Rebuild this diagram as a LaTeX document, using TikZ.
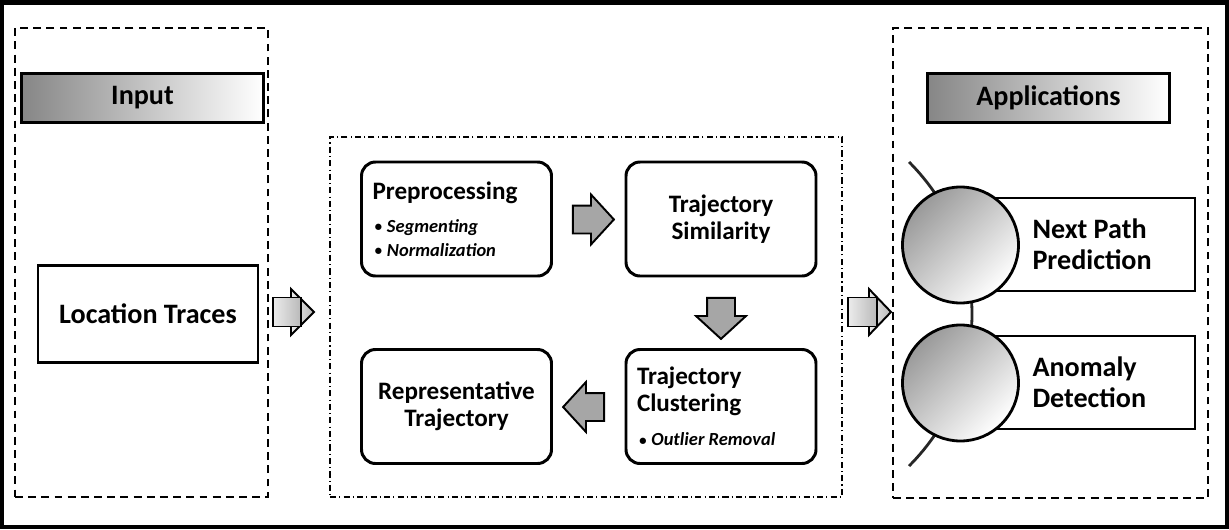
\documentclass[tikz,border=0pt]{standalone}
\usepackage{fontspec}
\setmainfont{Carlito}
\usetikzlibrary{shapes.arrows,positioning}
\definecolor{arrowgray}{RGB}{166,166,166}

\begin{document}
\begin{tikzpicture}[node distance=2cm]

    \tikzstyle{frame} = [rectangle, draw=black, line width=1.3pt, dash pattern=on 4.5pt off 3pt]
    \tikzstyle{core_frame} = [rectangle, draw=black, line width=0.6pt, dash pattern=on 3.5pt off 1.8pt on 0.6pt off 1.8pt]
    \tikzstyle{header} = [rectangle, minimum width=4.84cm, minimum height=0.98cm, draw=black, line width=1.7pt, left color=gray!95, right color=white, font=\fontsize{16}{18}\selectfont\bfseries]
    \tikzstyle{in_box} = [rectangle, minimum width=4.4cm, minimum height=1.94cm, draw=black, line width=1.7pt, font=\fontsize{16}{18}\selectfont\bfseries]
    \tikzstyle{step_box} = [rectangle, rounded corners=0.28cm, minimum width=3.8cm, minimum height=2.28cm, draw=black, line width=1.7pt, align=center, font=\fontsize{14.3}{15.4}\selectfont\bfseries]
    \tikzstyle{list_box} = [step_box, text width=3.36cm, align=flush left, font=\fontsize{14.3}{13.7}\selectfont\bfseries]
    \tikzstyle{app_box} = [rectangle, minimum width=4.1cm, minimum height=1.86cm, text width=2.4cm, inner xsep=0.85cm, align=flush left, draw=black, fill=white, line width=1.6pt, font=\fontsize{16}{17.6}\selectfont\bfseries]
    \tikzstyle{app_dot} = [circle, minimum size=2.32cm, draw=black, line width=1.6pt, top color=gray!80, bottom color=white, shading angle=45]
    \tikzstyle{block_arrow} = [single arrow, draw=black, line width=1.1pt, fill=arrowgray, inner sep=0pt, text height=0.52cm, text depth=0cm, single arrow head extend=0.22cm, single arrow tip angle=95, minimum height=0.82cm]
    \tikzstyle{arrow_part} = [draw=black, line width=1.1pt, left color=gray!15, right color=gray!55]

    \useasboundingbox (0,0) rectangle (24.58,10.58);
    \draw [line width=0.09cm] (0.045,0.045) rectangle (24.535,10.535);

            % frames
            \node (Input_Frame) [frame, minimum width=5.06cm, minimum height=9.38cm] at (2.83,5.33) {};
            \node (Core_Frame) [core_frame, minimum width=10.24cm, minimum height=7.2cm] at (11.72,4.24) {};
            \node (Apps_Frame) [frame, minimum width=6.30cm, minimum height=9.40cm] at (21.01,5.32) {};

            % input side
            \node (Input) [header] at (2.85,8.62) {Input};
            \node (Location_Traces) [in_box] at (2.96,4.30) {Location Traces};

            % core steps
            \node (Preprocessing) [list_box] at (9.13,6.20) {Preprocessing\\[5.2pt]
                {\fontsize{10.5}{13}\selectfont\itshape\hspace{0.04cm}\raisebox{0.4pt}{\fontsize{8.5}{8}\selectfont\textbullet}\hspace{0.1cm}Segmenting}\\
                {\fontsize{10.5}{13}\selectfont\itshape\hspace{0.04cm}\raisebox{0.4pt}{\fontsize{8.5}{8}\selectfont\textbullet}\hspace{0.1cm}Normalization}};
            \node (Similarity) [step_box] at (14.42,6.20) {Trajectory\\Similarity};
            \node (Clustering) [list_box] at (14.42,2.45) {Trajectory\\[1.7pt]Clustering\\[5.7pt]
                {\fontsize{10.5}{13}\selectfont\itshape\hspace{0.04cm}\raisebox{0.4pt}{\fontsize{8.5}{8}\selectfont\textbullet}\hspace{0.1cm}Outlier Removal}};
            \node (Representative) [step_box] at (9.13,2.45) {Representative\\Trajectory};

            \node (Sim_Arrow) [block_arrow] at (11.74,6.19) {};
            \node (Clu_Arrow) [block_arrow, rotate=270] at (14.42,4.34) {};
            \node (Rep_Arrow) [block_arrow, shape border rotate=180] at (11.80,2.44) {};

            % input -> core -> applications
            \coordinate (In_Arrow) at (5.82,4.34);
            \draw [arrow_part] (In_Arrow) ++(0,0.46) -- ++(0.46,-0.46) -- ++(-0.46,-0.46) -- cycle;
            \draw [arrow_part] (In_Arrow) ++(-0.36,0.29) rectangle ++(0.56,-0.58);
            \coordinate (Out_Arrow) at (17.38,4.34);
            \draw [arrow_part] (Out_Arrow) ++(0,0.46) -- ++(0.44,-0.46) -- ++(-0.44,-0.46) -- cycle;
            \draw [arrow_part] (Out_Arrow) ++(-0.42,0.29) rectangle ++(0.58,-0.58);

            % applications side
            \node (Applications) [header] at (20.97,8.62) {Applications};
            \coordinate (Arc_Center) at (15.14,4.30);
            \draw [line width=1.6pt, color=gray!30!black] (Arc_Center) ++(45:4.3) arc (45:-45:4.3);
            \node (Next_Path) [app_box] at (21.85,5.69) {Next Path\\Prediction};
            \node (Anomaly) [app_box] at (21.85,2.93) {Anomaly\\Detection};
            \node (Next_Path_Dot) [app_dot] at (19.21,5.68) {};
            \node (Anomaly_Dot) [app_dot] at (19.21,2.92) {};
\end{tikzpicture}
\end{document}
